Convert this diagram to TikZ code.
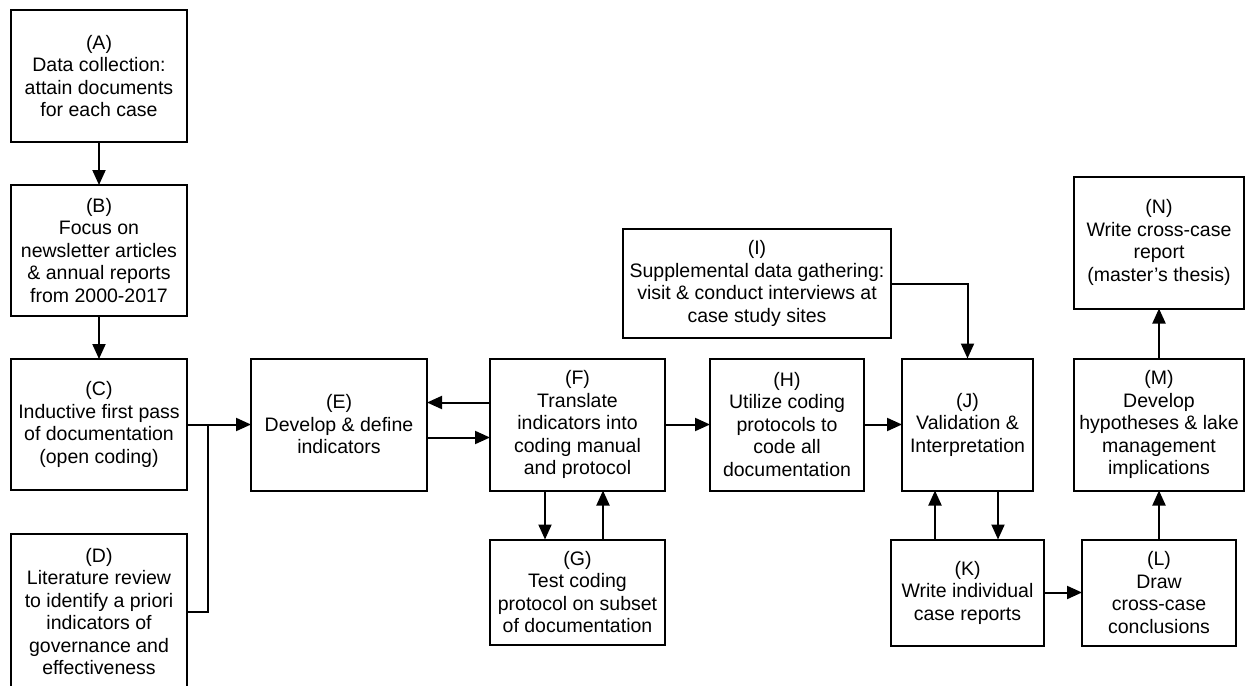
\documentclass[tikz,border=0pt]{standalone}
\usepackage{fontspec}
\setmainfont{Liberation Sans}
\usetikzlibrary{arrows.meta,positioning}

\begin{document}
\begin{tikzpicture}[x=1pt, y=-1pt, node distance=43pt, auto]
        \tikzstyle{block} = [rectangle, draw, line width=2pt, align=center, outer sep=0pt,
        font=\fontsize{19.5}{22.5}\selectfont, minimum width=176pt, minimum height=132pt, inner sep=1pt]
        \tikzset{line/.style={draw, line width=2pt, color=black, -{Triangle[length=15pt,width=13pt]}}}

        \useasboundingbox (0,0) rectangle (1246,685);

        \node [block] (A) at (99,76) {(A)\\Data collection:\\attain documents\\for each case};
        \node [block, below=of A, minimum height=131pt] (B) {(B)\\Focus on\\newsletter articles\\\& annual reports\\from 2000-2017};
        \node [block, below=of B, minimum height=131pt] (C) {(C)\\Inductive first pass\\of documentation\\(open coding)};
        \node [block, below=44pt of C, minimum height=155pt] (D) {(D)\\Literature review\\to identify a priori\\indicators of\\governance and\\effectiveness};
        \node [block, right=64pt of C] (E) {(E)\\Develop \& define\\indicators};
        \node [block, right=63pt of E, minimum width=175pt] (F) {(F)\\Translate\\indicators into\\coding manual\\and protocol};
        \node [block, below=49pt of F, minimum width=175pt, minimum height=105pt] (G) {(G)\\Test coding\\protocol on subset\\of documentation};
        \node [block, right=45pt of F, minimum width=154pt] (H) {(H)\\Utilize coding\\protocols to\\code all\\documentation};
        \node [block, right=38pt of H, minimum width=131pt] (J) {(J)\\Validation \&\\Interpretation};
        \node [block, minimum width=268pt, minimum height=109pt] (I) at (757,283.5) {(I)\\Supplemental data gathering:\\visit \& conduct interviews at\\case study sites};
        \node [block, below=49pt of J, minimum width=153pt, minimum height=106pt] (K) {(K)\\Write individual\\case reports};
        \node [block, right=38pt of K, minimum width=154pt, minimum height=106pt] (L) {(L)\\Draw\\cross-case\\conclusions};
        \node [block, above=49pt of L, minimum width=170pt] (M) {(M)\\Develop\\hypotheses \& lake\\management\\implications};
        \node [block, above=50pt of M, minimum width=170pt] (N) {(N)\\Write cross-case\\report\\(master's thesis)};

        \coordinate [right=21pt of C] (jn);

        \path [line] (A) -- (B);
        \path [line] (B) -- (C);
        \path [line] (C) -- (E);
        \path [line, -] (D.east) -| (jn);
        \path [line] ([yshift=22pt]F.west) -- ([yshift=22pt]E.east);
        \path [line] ([yshift=-13pt]E.east) -- ([yshift=-13pt]F.west);
        \path [line] ([xshift=-32.5pt]F.south) -- ([xshift=-32.5pt]G.north);
        \path [line] ([xshift=25.5pt]G.north) -- ([xshift=25.5pt]F.south);
        \path [line] (F) -- (H);
        \path [line] (H) -- (J);
        \path [line] (I.east) -| (J.north);
        \path [line] ([xshift=-32.5pt]K.north) -- ([xshift=-32.5pt]J.south);
        \path [line] ([xshift=30.5pt]J.south) -- ([xshift=30.5pt]K.north);
        \path [line] (K) -- (L);
        \path [line] (L) -- (M);
        \path [line] (M) -- (N);

    \end{tikzpicture}
\end{document}
